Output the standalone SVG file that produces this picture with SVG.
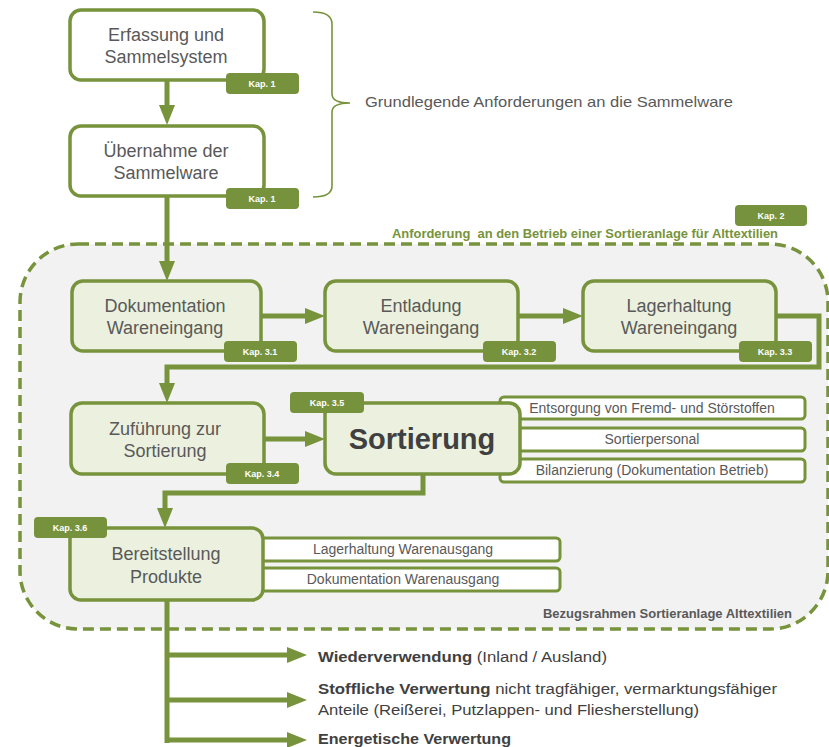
<svg xmlns="http://www.w3.org/2000/svg" width="829" height="747" viewBox="0 0 829 747">
<style>
.box{fill:#ffffff;stroke:#77933c;stroke-width:3.5}
.gbox{fill:#ebf1de;stroke:#77933c;stroke-width:3.5}
.sub{fill:#ffffff;stroke:#77933c;stroke-width:3}
.badge{fill:#76923c}
.bt{font-family:"Liberation Sans",Arial,sans-serif;font-size:9px;font-weight:bold;fill:#ffffff;text-anchor:middle}
.nt{font-family:"Liberation Sans",Arial,sans-serif;font-size:18px;fill:#595959;text-anchor:middle}
.st{font-family:"Liberation Sans",Arial,sans-serif;font-size:14px;fill:#595959;text-anchor:middle}
.conn{fill:none;stroke:#77933c;stroke-width:5}
.lbl{font-family:"Liberation Sans",Arial,sans-serif;font-size:14px;fill:#404040}
</style>
<defs>
<marker id="ah" viewBox="0 0 20 16" markerWidth="20" markerHeight="16" markerUnits="userSpaceOnUse" refX="0" refY="8" orient="auto">
<path d="M0,0 L20,8 L0,16 z" fill="#77933c"/>
</marker>
</defs>
<rect width="829" height="747" fill="#ffffff"/>

<g id="container">
<rect x="20" y="244" width="808" height="385" rx="58" fill="#f2f2f2" stroke="#77933c" stroke-width="3.5" stroke-dasharray="11,6"/>
<text x="778" y="238" text-anchor="end" font-family="Liberation Sans,Arial,sans-serif" font-size="12" font-weight="bold" fill="#77933c" textLength="386" lengthAdjust="spacingAndGlyphs" xml:space="preserve">Anforderung  an den Betrieb einer Sortieranlage für Alttextilien</text>
<rect class="badge" x="735" y="205" width="72" height="21" rx="4"/>
<text class="bt" x="771" y="219">Kap. 2</text>
<text x="792" y="618" text-anchor="end" font-family="Liberation Sans,Arial,sans-serif" font-size="12" font-weight="bold" fill="#595959" textLength="249" lengthAdjust="spacingAndGlyphs">Bezugsrahmen Sortieranlage Alttextilien</text>
</g>

<g id="brace">
<path d="M313,12 Q332,12 332,24 L332,94 Q332,103 350,103 M350,103 Q332,103 332,112 L332,186 Q332,197 313,197" fill="none" stroke="#77933c" stroke-width="1.6"/>
<text x="365" y="107" font-family="Liberation Sans,Arial,sans-serif" font-size="14.5" fill="#595959" textLength="368" lengthAdjust="spacingAndGlyphs">Grundlegende Anforderungen an die Sammelware</text>
</g>

<g id="connectors">
<path class="conn" d="M167,80 L167,105" marker-end="url(#ah)"/>
<path class="conn" d="M167,196 L167,261" marker-end="url(#ah)"/>
<path class="conn" d="M261,316 L305,316" marker-end="url(#ah)"/>
<path class="conn" d="M518,316 L563,316" marker-end="url(#ah)"/>
<path class="conn" d="M776,316 L819,316 L819,367 L167,367 L167,383" marker-end="url(#ah)"/>
<path class="conn" d="M264,439 L305,439" marker-end="url(#ah)"/>
<path class="conn" d="M423,474 L423,493 L165,493 L165,508" marker-end="url(#ah)"/>
<path class="conn" d="M167,600 L167,743"/>
<path class="conn" d="M165,655 L287,655" marker-end="url(#ah)"/>
<path class="conn" d="M165,700 L287,700" marker-end="url(#ah)"/>
<path class="conn" d="M165,740 L287,740" marker-end="url(#ah)"/>
</g>

<g id="erfassung">
<rect class="box" x="70" y="10" width="194" height="70" rx="11"/>
<text class="nt" x="166" y="41">Erfassung und</text>
<text class="nt" x="166" y="63">Sammelsystem</text>
<rect class="badge" x="226" y="73" width="73" height="21" rx="4"/>
<text class="bt" x="262" y="87">Kap. 1</text>
</g>

<g id="uebernahme">
<rect class="box" x="70" y="126" width="194" height="70" rx="11"/>
<text class="nt" x="166" y="157">Übernahme der</text>
<text class="nt" x="166" y="179">Sammelware</text>
<rect class="badge" x="226" y="188" width="73" height="21" rx="4"/>
<text class="bt" x="262" y="202">Kap. 1</text>
</g>

<g id="dokumentation">
<rect class="gbox" x="72" y="281" width="189" height="70" rx="11"/>
<text class="nt" x="165" y="312">Dokumentation</text>
<text class="nt" x="165" y="334">Wareneingang</text>
<rect class="badge" x="224" y="341" width="73" height="21" rx="4"/>
<text class="bt" x="260" y="355">Kap. 3.1</text>
</g>

<g id="entladung">
<rect class="gbox" x="325" y="281" width="193" height="70" rx="11"/>
<text class="nt" x="421" y="312">Entladung</text>
<text class="nt" x="421" y="334">Wareneingang</text>
<rect class="badge" x="483" y="341" width="73" height="21" rx="4"/>
<text class="bt" x="519" y="355">Kap. 3.2</text>
</g>

<g id="lagerhaltung">
<rect class="gbox" x="583" y="281" width="193" height="70" rx="11"/>
<text class="nt" x="679" y="312">Lagerhaltung</text>
<text class="nt" x="679" y="334">Wareneingang</text>
<rect class="badge" x="739" y="341" width="73" height="21" rx="4"/>
<text class="bt" x="775" y="355">Kap. 3.3</text>
</g>

<g id="zufuehrung">
<rect class="gbox" x="71" y="403" width="193" height="71" rx="11"/>
<text class="nt" x="165" y="435">Zuführung zur</text>
<text class="nt" x="165" y="457">Sortierung</text>
<rect class="badge" x="226" y="463" width="73" height="21" rx="4"/>
<text class="bt" x="262" y="477">Kap. 3.4</text>
</g>

<g id="sortierung">
<rect class="sub" x="500" y="397" width="305" height="22" rx="4"/>
<text class="st" x="652" y="413">Entsorgung von Fremd- und Störstoffen</text>
<rect class="sub" x="500" y="428" width="305" height="23" rx="4"/>
<text class="st" x="652" y="444">Sortierpersonal</text>
<rect class="sub" x="500" y="459" width="305" height="23" rx="4"/>
<text class="st" x="652" y="475">Bilanzierung (Dokumentation Betrieb)</text>
<rect class="gbox" x="325" y="403" width="195" height="71" rx="11"/>
<text x="422" y="449" text-anchor="middle" font-family="Liberation Sans,Arial,sans-serif" font-size="29" font-weight="bold" fill="#404040">Sortierung</text>
<rect class="badge" x="290" y="392" width="74" height="21" rx="4"/>
<text class="bt" x="327" y="406">Kap. 3.5</text>
</g>

<g id="bereitstellung">
<rect class="sub" x="250" y="538" width="310" height="23" rx="4"/>
<text class="st" x="403" y="554">Lagerhaltung Warenausgang</text>
<rect class="sub" x="250" y="568" width="310" height="23" rx="4"/>
<text class="st" x="403" y="584">Dokumentation Warenausgang</text>
<rect class="gbox" x="70" y="528" width="193" height="72" rx="11"/>
<text class="nt" x="166" y="560">Bereitstellung</text>
<text class="nt" x="166" y="583">Produkte</text>
<rect class="badge" x="34" y="517" width="73" height="21" rx="4"/>
<text class="bt" x="70" y="531">Kap. 3.6</text>
</g>

<g id="outputs">
<text class="lbl" x="318" y="662" textLength="289" lengthAdjust="spacingAndGlyphs"><tspan font-weight="bold">Wiederverwendung</tspan> (Inland / Ausland)</text>
<text class="lbl" x="318" y="694" textLength="459" lengthAdjust="spacingAndGlyphs"><tspan font-weight="bold">Stoffliche Verwertung</tspan> nicht tragfähiger, vermarktungsfähiger</text>
<text class="lbl" x="318" y="715" textLength="381" lengthAdjust="spacingAndGlyphs">Anteile (Reißerei, Putzlappen- und Fliesherstellung)</text>
<text class="lbl" x="318" y="744" font-weight="bold" textLength="193" lengthAdjust="spacingAndGlyphs">Energetische Verwertung</text>
</g>
</svg>
